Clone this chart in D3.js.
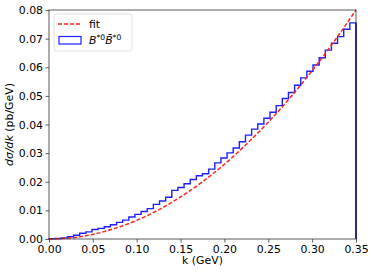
<!DOCTYPE html>
<html>
<head>
<meta charset="utf-8">
<script src="https://cdn.jsdelivr.net/npm/d3@7"></script>
<style>
  body { margin: 0; background: #fff; }
  text { font-family: "DejaVu Sans", sans-serif; }
</style>
</head>
<body>
<div id="chart"></div>
<script>
(() => {
  // histogram: 50 bins of 0.007 GeV from 0 to 0.35
  const binWidth = 0.007;
  const histValues = [
    0.0001, 0.0002, 0.0004, 0.0008, 0.0013, 0.0020, 0.0025, 0.0033, 0.0037, 0.0043,
    0.0050, 0.0058, 0.0066, 0.0077, 0.0086, 0.0096, 0.0106, 0.0121, 0.0133, 0.0146,
    0.0170, 0.0180, 0.0193, 0.0208, 0.0221, 0.0228, 0.0244, 0.0266, 0.0283, 0.0301,
    0.0318, 0.0340, 0.0363, 0.0384, 0.0402, 0.0422, 0.0443, 0.0466, 0.0491, 0.0512,
    0.0537, 0.0563, 0.0586, 0.0608, 0.0633, 0.0660, 0.0684, 0.0707, 0.0733, 0.0755,
  ];
  // fit curve
  const fitK = [0, 0.025, 0.05, 0.075, 0.1, 0.125, 0.15, 0.175, 0.2, 0.225, 0.25, 0.275, 0.3, 0.325, 0.35];
  const fitY = [0, 0.0004, 0.0016, 0.0037, 0.0065, 0.0102, 0.0147, 0.0200, 0.0261, 0.0331, 0.0408, 0.0494, 0.0588, 0.0690, 0.0800];
  const xTicks = [0, 0.05, 0.1, 0.15, 0.2, 0.25, 0.3, 0.35];
  const yTicks = [0, 0.01, 0.02, 0.03, 0.04, 0.05, 0.06, 0.07, 0.08];

  const W = 374, H = 273;
  const margin = { top: 10, right: 18, bottom: 34, left: 49 };

  const svg = d3
    .select("#chart")
    .append("svg")
    .attr("width", W)
    .attr("height", H);

  const x = d3.scaleLinear().domain([0, 0.35]).range([margin.left, W - margin.right]);
  const y = d3.scaleLinear().domain([0, 0.08]).range([H - margin.bottom, margin.top]);

  // step path for histogram
  const steps = [[0, 0]];
  histValues.forEach((v, i) => {
    steps.push([i * binWidth, v]);
    steps.push([(i + 1) * binWidth, v]);
  });
  steps.push([histValues.length * binWidth, 0]);

  const line = d3.line().x((d) => x(d[0])).y((d) => y(d[1]));

  svg
    .append("path")
    .attr("d", line(steps))
    .style("fill", "none")
    .style("stroke", "#1f1fff")
    .style("stroke-width", 1.4);

  // right edge of last bin looks darker
  svg
    .append("line")
    .attr("x1", x(0.35))
    .attr("x2", x(0.35))
    .attr("y1", y(histValues[histValues.length - 1]))
    .attr("y2", y(0))
    .style("stroke", "#101080")
    .style("stroke-width", 1.4);

  svg
    .append("path")
    .attr("d", d3.line().curve(d3.curveMonotoneX).x((d, i) => x(fitK[i])).y((d) => y(d))(fitY))
    .style("fill", "none")
    .style("stroke", "#ff2020")
    .style("stroke-width", 1.5)
    .style("stroke-dasharray", "4,2");

  // axes
  const xAxis = svg
    .append("g")
    .attr("transform", `translate(0,${y(0)})`)
    .call(d3.axisBottom(x).tickValues(xTicks).tickFormat(d3.format(".2f")).tickSize(3.5).tickPadding(2.5));
  const yAxis = svg
    .append("g")
    .attr("transform", `translate(${x(0)},0)`)
    .call(d3.axisLeft(y).tickValues(yTicks).tickFormat(d3.format(".2f")).tickSize(3.5).tickPadding(2.5));

  [xAxis, yAxis].forEach((a) => {
    a.selectAll(".domain").remove();
    a.selectAll("line").style("stroke", "#333").style("stroke-width", 0.8);
    a.selectAll("text")
      .style("font-family", "DejaVu Sans")
      .style("font-size", "10.9px")
      .style("fill", "#000");
  });

  // frame
  svg
    .append("rect")
    .attr("x", x(0))
    .attr("y", y(0.08))
    .attr("width", x(0.35) - x(0))
    .attr("height", y(0) - y(0.08))
    .style("fill", "none")
    .style("stroke", "#333")
    .style("stroke-width", 0.8);

  // axis labels
  svg
    .append("text")
    .attr("x", (x(0) + x(0.35)) / 2)
    .attr("y", 264)
    .attr("text-anchor", "middle")
    .style("font-size", "10.9px")
    .text("k (GeV)");

  const yl = svg
    .append("text")
    .attr("transform", `translate(13,${(y(0) + y(0.08)) / 2}) rotate(-90)`)
    .attr("text-anchor", "middle")
    .style("font-size", "10.9px");
  yl.append("tspan").style("font-style", "italic").text("dσ/dk");
  yl.append("tspan").text(" (pb/GeV)");

  // legend
  const lg = svg.append("g").attr("transform", "translate(54,14)");
  lg.append("rect")
    .attr("width", 78)
    .attr("height", 37)
    .attr("rx", 2.5)
    .style("fill", "#fff")
    .style("fill-opacity", 0.8)
    .style("stroke", "#d8d8d8")
    .style("stroke-width", 0.8);
  lg.append("line")
    .attr("x1", 4).attr("x2", 26).attr("y1", 10).attr("y2", 10)
    .style("stroke", "#ff2020")
    .style("stroke-width", 1.5)
    .style("stroke-dasharray", "4,2");
  lg.append("text").attr("x", 35).attr("y", 14).style("font-size", "10.9px").text("fit");
  lg.append("rect")
    .attr("x", 5).attr("y", 22.5).attr("width", 22).attr("height", 7.5)
    .style("fill", "#fff")
    .style("stroke", "#1f1fff")
    .style("stroke-width", 1.2);
  const bt = lg.append("text").attr("x", 35).attr("y", 30).style("font-size", "10.9px");
  bt.append("tspan").style("font-style", "italic").text("B");
  bt.append("tspan").attr("dy", -4).style("font-size", "7.6px").text("*0");
  bt.append("tspan").attr("dy", 4).style("font-style", "italic").text("B\u0304");
  bt.append("tspan").attr("dy", -4).style("font-size", "7.6px").text("*0");
})();
</script>
</body>
</html>
